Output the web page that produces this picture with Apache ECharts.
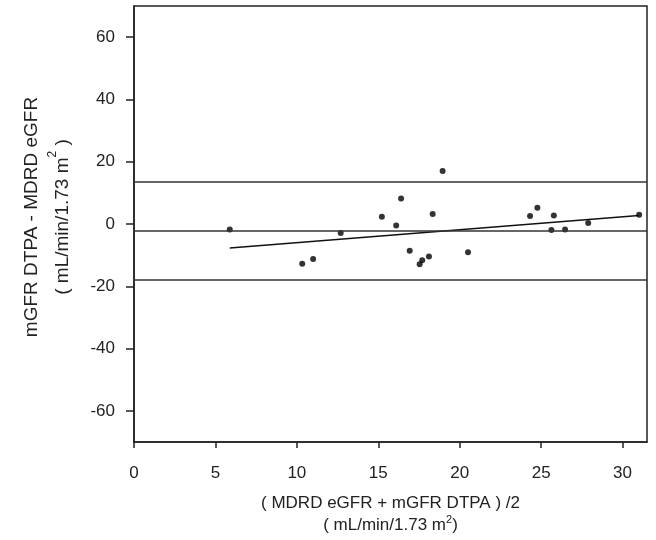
<!DOCTYPE html>
<html>
<head>
<meta charset="utf-8">
<title>Bland-Altman</title>
<script src="https://cdn.jsdelivr.net/npm/echarts@6/dist/echarts.min.js"></script>
<style>
  html, body { margin: 0; padding: 0; background: #fff; }
  #main { width: 656px; height: 540px; }
</style>
</head>
<body>
<div id="main"></div>
<script>
// mean of the two methods (x) and their difference (y)
var meanVals = [5.88, 10.33, 11.0, 12.69, 15.22, 16.1, 16.4, 16.93, 17.54, 17.7, 18.11,
                18.34, 18.95, 20.51, 24.32, 24.77, 25.78, 25.63, 26.47, 27.89, 31.02];
var diffVals = [-1.8, -12.8, -11.2, -2.9, 2.3, -0.5, 8.2, -8.6, -12.9, -11.6, -10.4,
                3.2, 17.0, -9.1, 2.6, 5.2, 2.7, -1.9, -1.8, 0.3, 3.0];

// limits of agreement and bias
var upperLimit = 13.5;
var meanBias = -2.2;
var lowerLimit = -17.8;

// regression line end points
var regX = [5.88, 31.0];
var regY = [-7.7, 2.7];

var xTicks = [0, 5, 10, 15, 20, 25, 30];
var yTicks = [-60, -40, -20, 0, 20, 40, 60];

var points = meanVals.map(function (x, i) { return [x, diffVals[i]]; });
var regLine = regX.map(function (x, i) { return [x, regY[i]]; });

var font = 'Liberation Sans, Arial, sans-serif';
var ink = '#222';

var myChart = echarts.init(document.getElementById('main'));

var option = {
    animation: false,
    grid: {
        left: 134, top: 6, right: 9, bottom: 98,
        outerBoundsMode: 'none',
        containLabel: false,
        show: true, borderColor: ink, borderWidth: 1.5, backgroundColor: '#fff'
    },
    xAxis: {
        type: 'value',
        min: 0, max: 31.5,
        name: '( MDRD eGFR + mGFR DTPA ) /2\n( mL/min/1.73 m{sup|2})',
        nameLocation: 'middle',
        nameGap: 50,
        nameTextStyle: {
            fontFamily: font, fontSize: 17, color: ink, lineHeight: 22,
            rich: { sup: { fontFamily: font, fontSize: 11, color: ink, verticalAlign: 'top', padding: [0, 0, 8, 0] } }
        },
        axisLine: { show: true, onZero: false, lineStyle: { color: ink, width: 1.5 } },
        axisTick: { show: true, inside: false, length: 6, customValues: xTicks, lineStyle: { color: ink, width: 1.5 } },
        axisLabel: { customValues: xTicks, margin: 23, fontFamily: font, fontSize: 17, color: ink },
        splitLine: { show: false }
    },
    yAxis: {
        type: 'value',
        min: -70, max: 70,
        name: 'mGFR DTPA - MDRD eGFR\n( mL/min/1.73 m{sup|2} )',
        nameLocation: 'middle',
        nameGap: 56,
        nameTextStyle: {
            fontFamily: font, fontSize: 19, color: ink, lineHeight: 31,
            padding: [0, 0, 0, 14],
            rich: { sup: { fontFamily: font, fontSize: 12, color: ink, verticalAlign: 'top', padding: [0, 0, 9, 0] } }
        },
        axisLine: { show: true, onZero: false, lineStyle: { color: ink, width: 1.5 } },
        axisTick: { show: true, inside: false, length: 8, customValues: yTicks, lineStyle: { color: ink, width: 1.5 } },
        axisLabel: { customValues: yTicks, margin: 19, fontFamily: font, fontSize: 17, color: ink },
        splitLine: { show: false }
    },
    series: [
        {
            type: 'scatter',
            data: points,
            symbol: 'circle',
            symbolSize: 6,
            itemStyle: { color: '#000' },
            markLine: {
                silent: true,
                symbol: ['none', 'none'],
                label: { show: false },
                lineStyle: { color: '#333', width: 1.5, type: 'solid' },
                data: [
                    { yAxis: upperLimit },
                    { yAxis: meanBias },
                    { yAxis: lowerLimit }
                ]
            },
            z: 3
        },
        {
            type: 'line',
            data: regLine,
            symbol: 'none',
            lineStyle: { color: '#111', width: 1.5 },
            z: 2
        }
    ]
};

myChart.setOption(option);
</script>
</body>
</html>
